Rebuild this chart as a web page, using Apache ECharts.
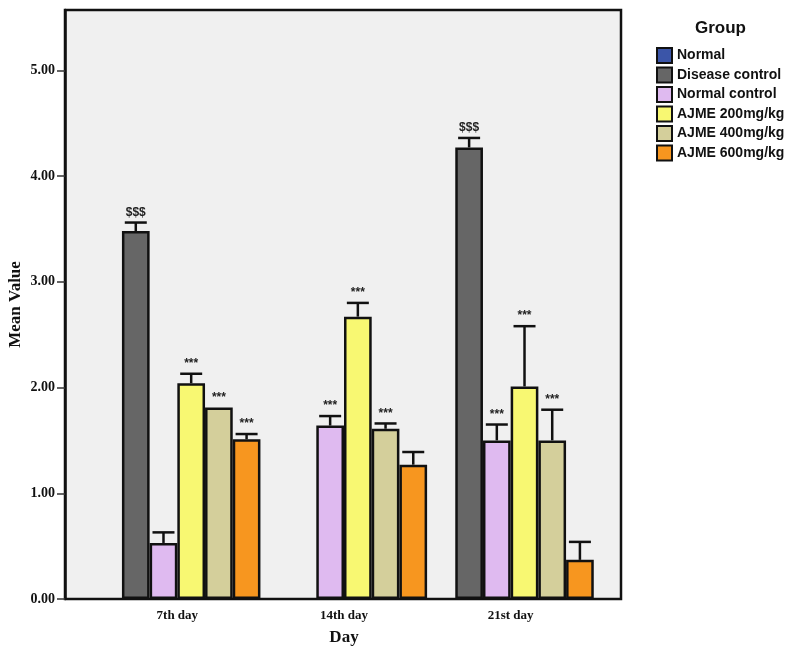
<!DOCTYPE html>
<html>
<head>
<meta charset="utf-8">
<script src="https://cdn.jsdelivr.net/npm/echarts@6/dist/echarts.min.js"></script>
<style>
  html, body { margin: 0; padding: 0; background: #fff; }
  #chart { width: 796px; height: 652px; }
</style>
</head>
<body>
<div id="chart"></div>
<script>
// Data
var days = ['7th day', '14th day', '21st day'];
var groups = ['Normal', 'Disease control', 'Normal control', 'AJME 200mg/kg', 'AJME 400mg/kg', 'AJME 600mg/kg'];
var colors = ['#3b55a8', '#666666', '#dfbaf0', '#f8f872', '#d4cf9b', '#f7961f'];
var yTicks = [0, 1, 2, 3, 4, 5];

// mean values (Normal has no visible bar)
var meanNormal  = [null, null, null];
var meanDisease = [3.48, null, 4.27];
var meanNC      = [0.53, 1.64, 1.50];
var meanA200    = [2.04, 2.67, 2.01];
var meanA400    = [1.81, 1.61, 1.50];
var meanA600    = [1.51, 1.27, 0.37];

// top of the error bars
var errNormal  = [null, null, null];
var errDisease = [3.56, null, 4.36];
var errNC      = [0.63, 1.73, 1.65];
var errA200    = [2.13, 2.80, 2.58];
var errA400    = [1.81, 1.66, 1.79];
var errA600    = [1.56, 1.39, 0.54];

// significance marks above the bars
var markNormal  = ['', '', ''];
var markDisease = ['$$$', '', '$$$'];
var markNC      = ['', '***', '***'];
var markA200    = ['***', '***', '***'];
var markA400    = ['***', '***', '***'];
var markA600    = ['***', '', ''];

var means = [meanNormal, meanDisease, meanNC, meanA200, meanA400, meanA600];
var errs = [errNormal, errDisease, errNC, errA200, errA400, errA600];
var marks = [markNormal, markDisease, markNC, markA200, markA400, markA600];

var yMax = 5.57;
var barW = 27.7;

var chart = echarts.init(document.getElementById('chart'));

// rows for the error bar series: [day index, group index, mean, upper, mark]
var errRows = [];
groups.forEach(function (g, s) {
  days.forEach(function (d, i) {
    if (means[s][i] == null) return;
    errRows.push([i, s, means[s][i], errs[s][i] == null ? means[s][i] : errs[s][i], marks[s][i]]);
  });
});

var series = groups.map(function (g, s) {
  return {
    name: g,
    type: 'bar',
    xAxisIndex: 1,
    yAxisIndex: 1,
    barWidth: barW,
    barGap: '0%',
    data: means[s],
    itemStyle: { color: colors[s], borderColor: '#111', borderWidth: 2.5 },
    emphasis: { disabled: true }
  };
});

series.push({
  type: 'custom',
  xAxisIndex: 1,
  yAxisIndex: 1,
  data: errRows,
  z: 5,
  renderItem: function (params, api) {
    var cat = api.value(0);
    var s = api.value(1);
    var base = api.coord([cat, api.value(2)]);
    var top = api.coord([cat, api.value(3)]);
    var x = base[0] + (s - 2.5) * barW;
    var mark = errRows[params.dataIndex][4];
    var children = [];
    if (top[1] < base[1] - 1) {
      children.push({
        type: 'line',
        shape: { x1: x, y1: base[1], x2: x, y2: top[1] },
        style: { stroke: '#111', lineWidth: 2.5 }
      });
      children.push({
        type: 'line',
        shape: { x1: x - 11, y1: top[1], x2: x + 11, y2: top[1] },
        style: { stroke: '#111', lineWidth: 2.5 }
      });
    }
    if (mark) {
      children.push({
        type: 'text',
        style: {
          x: x, y: top[1] - 4, text: mark,
          textAlign: 'center', textVerticalAlign: 'bottom',
          font: 'bold 12px "Liberation Sans", Arial, sans-serif',
          fill: '#222'
        }
      });
    }
    return { type: 'group', children: children };
  }
});

var option = {
  animation: false,
  legend: {
    orient: 'vertical',
    left: 651,
    top: 42,
    itemWidth: 15,
    itemHeight: 15,
    itemGap: 2.5,
    icon: 'rect',
    selectedMode: false,
    data: groups,
    itemStyle: { borderColor: '#111', borderWidth: 2 },
    textStyle: {
      fontFamily: '"Liberation Sans", Arial, sans-serif',
      fontWeight: 'bold',
      fontSize: 14,
      color: '#111',
      lineHeight: 15
    }
  },
  graphic: [{
    type: 'text',
    left: 720 - 25,
    top: 20,
    style: {
      text: 'Group',
      font: 'bold 17px "Liberation Sans", Arial, sans-serif',
      fill: '#111'
    }
  }],
  grid: [
    { left: 65, right: 175, top: 10, bottom: 53, show: true, backgroundColor: '#f0f0f0',
      borderColor: '#111', borderWidth: 2.5, outerBoundsMode: 'none' },
    { left: 94, right: 202, top: 10, bottom: 53, outerBoundsMode: 'none' }
  ],
  xAxis: [
    { gridIndex: 0, type: 'value', show: false, min: 0, max: 1 },
    {
      gridIndex: 1, type: 'category', data: days,
      name: 'Day', nameLocation: 'middle', nameGap: 30,
      nameTextStyle: { fontFamily: '"Liberation Serif", "Times New Roman", serif', fontWeight: 'bold', fontSize: 17, color: '#111' },
      axisLine: { show: false },
      axisTick: { alignWithLabel: true, length: 8, lineStyle: { color: '#333', width: 1 } },
      axisLabel: { fontFamily: '"Liberation Serif", "Times New Roman", serif', fontWeight: 'bold', fontSize: 13, color: '#111', margin: 10 }
    }
  ],
  yAxis: [
    {
      gridIndex: 0, type: 'value', min: 0, max: yMax,
      name: 'Mean Value', nameLocation: 'middle', nameGap: 41, nameMoveOverlap: false,
      nameTextStyle: { fontFamily: '"Liberation Serif", "Times New Roman", serif', fontWeight: 'bold', fontSize: 17, color: '#111' },
      splitLine: { show: false },
      axisLine: { show: true, lineStyle: { color: '#111', width: 2.5 } },
      axisTick: { show: true, length: 8, customValues: yTicks, lineStyle: { color: '#333', width: 1.5 } },
      axisLabel: {
        customValues: yTicks,
        formatter: function (v) { return v.toFixed(2); },
        fontFamily: '"Liberation Serif", "Times New Roman", serif', fontWeight: 'bold', fontSize: 14, color: '#111', margin: 10
      }
    },
    { gridIndex: 1, type: 'value', min: 0, max: yMax, show: false }
  ],
  series: series
};

chart.setOption(option);
</script>
</body>
</html>
